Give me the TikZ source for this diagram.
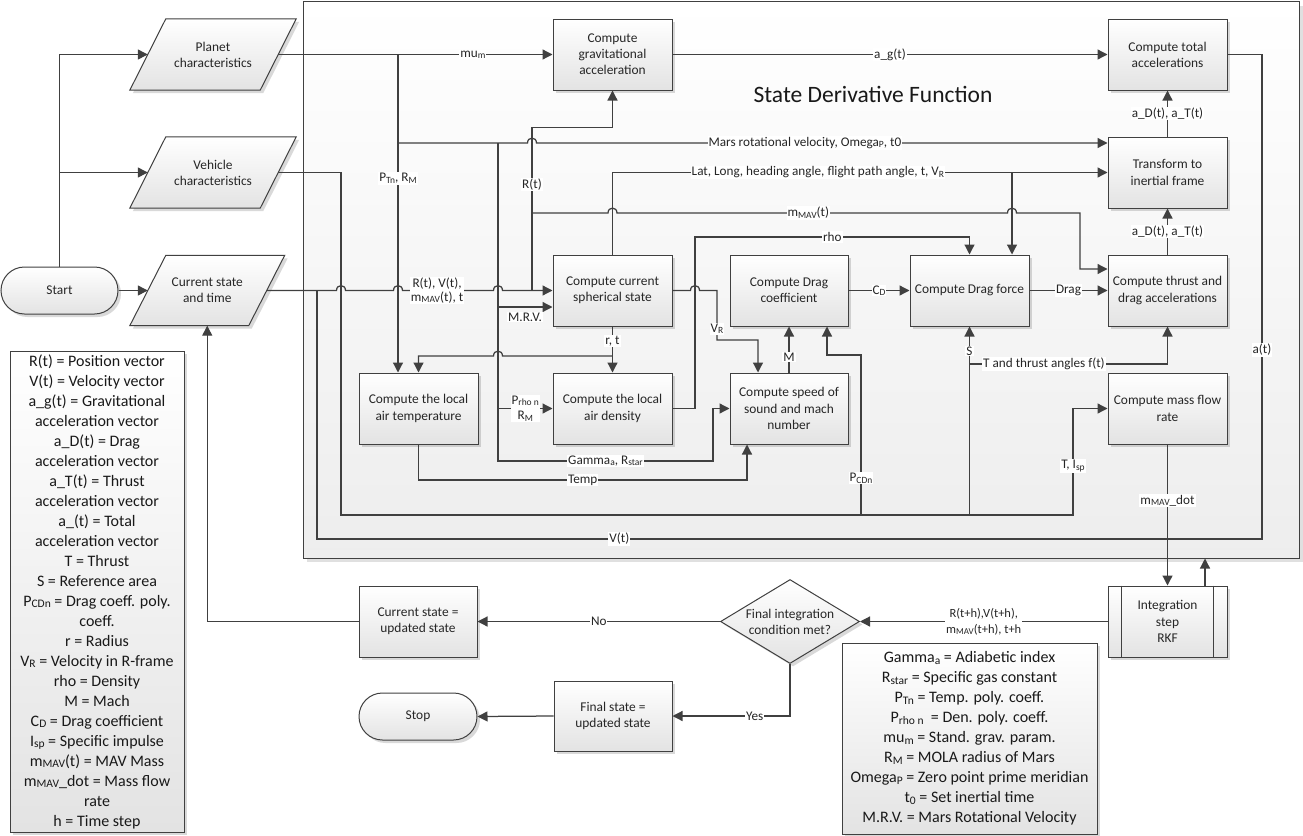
\documentclass[tikz,border=0pt]{standalone}
\usepackage{fontspec}
\setmainfont{Carlito}
\usetikzlibrary{arrows.meta,shadows,backgrounds,calc,shapes.geometric}
\makeatletter
\newcommand{\lsub}[1]{\raisebox{-0.2ex}{\fontsize{\strip@pt\dimexpr 0.72\dimexpr\f@size pt\relax\relax}{0}\selectfont #1}}
\makeatother
\tikzset{
  ln/.style={draw=black!75, line width=1.25pt},
  arr/.style={ln, -{Triangle[length=10pt,width=10pt]}},
  lbl/.style={fill=white, inner sep=1pt, font=\fontsize{13.2}{14}\selectfont, align=center, text=black!85},
  shadebox/.style={draw=black!75, line width=1pt, top color=white, bottom color=black!11,
    drop shadow={shadow xshift=3pt, shadow yshift=-3pt, fill=black, opacity=0.15}},
  procbox/.style={shadebox, rectangle, minimum width=119pt, minimum height=71pt, align=center,
    font=\fontsize{13.4}{16.2}\selectfont, inner sep=1.5pt, text=black!85},
  term/.style={shadebox, rounded corners=23.5pt, minimum width=117pt, minimum height=47pt,
    font=\fontsize{13.4}{16.2}\selectfont, text=black!85},
  iotext/.style={minimum height=71pt, align=center, font=\fontsize{13.4}{16.2}\selectfont, inner sep=0pt, text=black!85},
  txt/.style={align=center, font=\fontsize{13.4}{16.2}\selectfont, inner sep=0pt, text=black!85},
  legendbox/.style={shadebox, align=center, font=\fontsize{16}{20}\selectfont, inner sep=2pt, text=black!90},
  container/.style={draw=black!75, line width=1pt, top color=white, bottom color=black!7,
    drop shadow={shadow xshift=4pt, shadow yshift=-4pt, fill=black, opacity=0.12},
    minimum width=996pt, minimum height=556.5pt, inner sep=0pt},
  hop/.style args={#1/#2}{insert path={-- ({#1-4.5},#2) .. controls ({#1-4.5},{#2-6.5}) and ({#1+4.5},{#2-6.5}) .. ({#1+4.5},#2)}},
  hopl/.style args={#1/#2}{insert path={-- ({#1+4.5},#2) .. controls ({#1+4.5},{#2-6.5}) and ({#1-4.5},{#2-6.5}) .. ({#1-4.5},#2)}},
}
\begin{document}
\begin{tikzpicture}[x=1pt,y=-1pt]
\useasboundingbox (0,0) rectangle (1303,835);
\begin{scope}[on background layer]
\fill[white] (0,0) rectangle (1303,835);
\end{scope}

% container
\node[container] (sdf) at (801,279.75) {};
\node[font=\fontsize{23.5}{26}\selectfont, text=black!90] (ttl) at (873,94) {State Derivative Function};

% nodes
\node[term] (start) at (59.5,290.5) {Start};
\node[iotext, minimum width=130pt] (pla) at (213,54.5) {Planet\\characteristics};
\node[iotext, minimum width=130pt] (veh) at (213,172.5) {Vehicle\\characteristics};
\node[iotext, minimum width=118.5pt, minimum height=70pt] (cur) at (207.25,290.5) {Current state\\and time};
\node[procbox] (grv) at (612.5,54.5) {Compute\\gravitational\\acceleration};
\node[procbox] (tot) at (1167.5,54.5) {Compute total\\accelerations};
\node[procbox] (trf) at (1167.5,172.5) {Transform to\\inertial frame};
\node[procbox] (sph) at (612.5,290.5) {Compute current\\spherical state};
\node[procbox, minimum width=118pt] (dcf) at (789,290.5) {Compute Drag\\coefficient};
\node[procbox] (dfr) at (969.5,290.5) {Compute Drag force};
\node[procbox] (thr) at (1167.5,290.5) {Compute thrust and\\drag accelerations};
\node[procbox] (tmp) at (418.5,408.5) {Compute the local\\air temperature};
\node[procbox] (den) at (612.5,408.5) {Compute the local\\air density};
\node[procbox, minimum width=118pt] (spd) at (789,408.5) {Compute speed of\\sound and mach\\number};
\node[procbox] (mfr) at (1167.5,408.5) {Compute mass flow\\rate};
\node[procbox] (int) at (1167.5,621.5) {Integration\\step\\RKF};
\draw[draw=black!75, line width=1pt] ([xshift=14pt]int.north west) -- ([xshift=14pt]int.south west);
\draw[draw=black!75, line width=1pt] ([xshift=-14pt]int.north east) -- ([xshift=-14pt]int.south east);
\node[shadebox, diamond, minimum width=139pt, minimum height=84pt, inner sep=0pt] (dia) at (790,621.5) {};
\node[txt] (diat) at (dia) {Final integration\\condition met?};
\node[procbox, minimum width=118pt] (cst) at (418,621.5) {Current state =\\updated state};
\node[procbox, minimum width=118pt, minimum height=70pt] (fst) at (613,716) {Final state =\\updated state};
\node[term, minimum width=118pt] (stop) at (418,716.5) {Stop};

% legends
\node[legendbox, minimum width=174pt, minimum height=481pt] (legl) at (97,591.5) {R(t) = Position vector\\V(t) = Velocity vector\\a\_g(t) = Gravitational\\acceleration vector\\a\_D(t) = Drag\\acceleration vector\\a\_T(t) = Thrust\\acceleration vector\\a\_(t) = Total\\acceleration vector\\T = Thrust\\S = Reference area\\P\lsub{CDn} = Drag coeff. poly.\\coeff.\\r = Radius\\V\lsub{R} = Velocity in R-frame\\rho = Density\\M = Mach\\C\lsub{D} = Drag coefficient\\I\lsub{sp} = Specific impulse\\m\lsub{MAV}(t) = MAV Mass\\m\lsub{MAV}\_dot = Mass flow\\rate\\h = Time step};
\node[legendbox, minimum width=255pt, minimum height=191pt] (legr) at (969.5,738.5) {Gamma\lsub{a} = Adiabetic index\\R\lsub{star} = Specific gas constant\\P\lsub{Tn} = Temp. poly. coeff.\\P\lsub{rho n}\ \ = Den. poly. coeff.\\mu\lsub{m} = Stand. grav. param.\\R\lsub{M} = MOLA radius of Mars\\Omega\lsub{P} = Zero point prime meridian\\t\lsub{0} = Set inertial time\\M.R.V. = Mars Rotational Velocity};

% parallelograms
\begin{scope}[on background layer]
\foreach \p in {pla,veh,cur}{
  \path[shadebox] ([xshift=18pt]\p.north west) -- ([xshift=18pt]\p.north east) -- ([xshift=-18pt]\p.south east) -- ([xshift=-18pt]\p.south west) -- cycle;
}
\end{scope}

% junction coordinates
\coordinate (jp) at (398,54.5);
\coordinate (jm) at (398,143);
\coordinate (jv) at (498,143);
\coordinate (jr) at (532,290.5);

% connectors from Start
\draw[arr] (start.north) |- (pla.west);
\draw[arr] (start.north) |- (veh.west);
\draw[arr] (start.east) -- (cur.west);

% planet
\draw[arr] (pla.east) -- node[lbl,pos=0.71]{mu\lsub{m}} (grv.west);
\draw[arr] (jp) -- node[lbl,pos=0.39]{P\lsub{Tn}, R\lsub{M}} (jp |- tmp.north);
\draw[arr] (jm) [hop=532/143] -- node[lbl,pos=0.47]{Mars rotational velocity, Omega\lsub{P}, t0} (jm -| trf.west);
\draw[arr] (jv) -- (498,307) -- (sph.west |- 0,307);
\node[lbl] (mrv) at (525,317) {M.R.V.};
\draw[arr] (jv) -- (498,461) -- node[lbl]{Gamma\lsub{a}, R\lsub{star}} (713,461) -- (713,408.5) -- (spd.west);
\draw[arr] (jv |- den.west) -- node[lbl, font=\fontsize{13.2}{15.5}\selectfont]{P\lsub{rho n}\\R\lsub{M}} (den.west);

% state line
\draw[arr] (cur.east) [hop=341/290.5] [hop=398/290.5] -- node[lbl,pos=0.38]{R(t), V(t),\\m\lsub{MAV}(t), t} (493.5,290.5) [hop=498/290.5] -- (sph.west);
\draw[arr] (jr) -- node[lbl,pos=0.65]{R(t)} (532,127.5) -| (grv.south);
\draw[arr] (532,213) [hop=612.5/213] -- node[lbl,pos=0.49]{m\lsub{MAV}(t)} (1007.5,213) [hop=1012/213] -- (1080,213) -- (1080,269) -- (thr.west |- 0,269);

% spherical state outputs
\draw[arr] (sph.north) -- (sph.north |- trf.west) -- node[lbl,pos=0.415]{Lat, Long, heading angle, flight path angle, t, V\lsub{R}} (trf.west);
\draw[arr] (1012,172.5) -- (dfr.north -| 1012,0);
\draw[arr] (sph.east) [hop=695/290.5] -- (717,290.5) -- node[lbl,pos=0.78]{V\lsub{R}} (717,340) -- (758,340) -- (spd.north -| 758,0);
\draw[arr] (sph.south) -- node[lbl,pos=0.32]{r, t} (den.north);
\draw[arr] (612.5,356) [hopl=498/356] -- (418.5,356) -- (tmp.north);

% atmosphere
\draw[arr] (den.east) -- (695,408.5) -- (695,237) -- node[lbl]{rho} (dfr.north |- 0,237) -- (dfr.north);
\draw[arr] (tmp.south) -- (418.5,480) -- node[lbl]{Temp} (747,480) -- (spd.south -| 747,0);
\draw[arr] (spd.north) -- node[lbl,pos=0.34]{M} (dcf.south);
\draw[arr] (dcf.east) -- node[lbl]{C\lsub{D}} (dfr.west);
\draw[arr] (dfr.east) -- node[lbl]{Drag} (thr.west);
\draw[arr] (thr.north) -- node[lbl]{a\_D(t), a\_T(t)} (trf.south);
\draw[arr] (trf.north) -- node[lbl]{a\_D(t), a\_T(t)} (tot.south);
\draw[arr] (grv.east) -- node[lbl]{a\_g(t)} (tot.west);

% vehicle
\draw[arr] (veh.east) -- (341,172.5) -- (341,515) -- (1073,515) -- node[lbl,pos=0.46]{T, I\lsub{sp}} (1073,408.5) -- (mfr.west);
\draw[arr] (861,515) -- node[lbl,pos=0.23]{P\lsub{CDn}} (861,355) -- (827,355) -- (dcf.south -| 827,0);
\draw[arr] (dfr.south |- 0,515) -- node[lbl,pos=0.87]{S} (dfr.south);
\draw[arr] (dfr.south |- 0,364) -- node[lbl,pos=0.376]{T and thrust angles f(t)} (thr.south |- 0,364) -- (thr.south);

% total acceleration and velocity
\draw[ln] (tot.east) -- (1262,54.5) -- node[lbl,pos=0.61]{a(t)} (1262,539) -- node[lbl,pos=0.68]{V(t)} (317,539) -- (317,290.5);

% integration
\draw[arr] (mfr.south) -- node[lbl,pos=0.4]{m\lsub{MAV}\_dot} (int.north);
\draw[arr] (int.north -| 1205,0) -- (sdf.south -| 1205,0);
\draw[arr] (int.west) -- node[lbl, font=\fontsize{12.5}{16}\selectfont]{R(t+h),V(t+h),\\m\lsub{MAV}(t+h), t+h} (dia.east);
\draw[arr] (dia.west) -- node[lbl]{No} (cst.east);
\draw[arr] (cst.west) -| (cur.south);
\draw[arr] (dia.south) |- node[lbl,pos=0.65]{Yes} (fst.east);
\draw[arr] (fst.west) -- (stop.east);
\end{tikzpicture}
\end{document}
